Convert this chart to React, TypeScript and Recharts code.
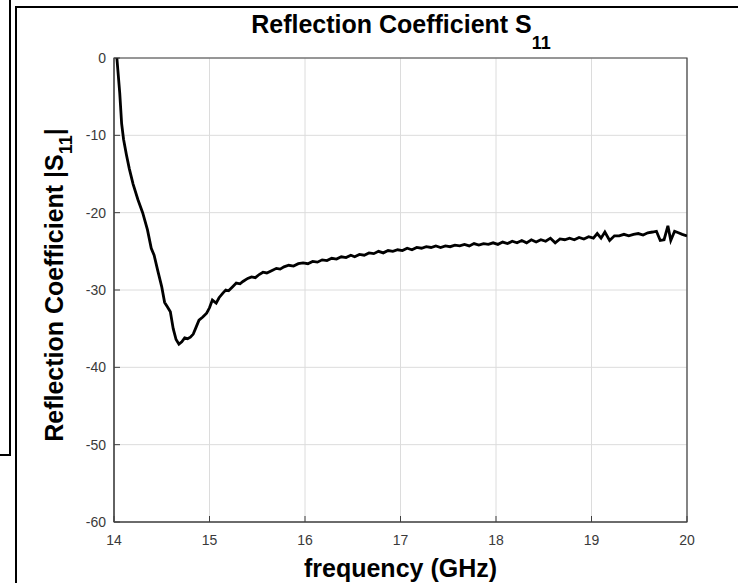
import React from 'react';
import { LineChart, Line, XAxis, YAxis, CartesianGrid, ReferenceArea } from 'recharts';

const freqGHz = [
  14.03, 14.06, 14.08, 14.1, 14.13, 14.16, 14.2, 14.25, 14.3, 14.35, 14.39, 14.42, 14.46, 14.5, 14.53,
  14.56, 14.59, 14.62, 14.65, 14.68, 14.71, 14.74, 14.77, 14.8, 14.83, 14.86, 14.89, 14.93, 14.97, 15.0,
  15.03, 15.07, 15.1, 15.14, 15.17, 15.2, 15.24, 15.28, 15.32, 15.35, 15.4, 15.44, 15.48, 15.52, 15.56,
  15.6, 15.65, 15.7, 15.74, 15.78, 15.83, 15.88, 15.93, 15.98, 16.03, 16.08, 16.13, 16.18, 16.23, 16.28,
  16.33, 16.38, 16.43, 16.48, 16.52, 16.57, 16.62, 16.67, 16.72, 16.77, 16.82, 16.87, 16.92, 16.97, 17.02,
  17.07, 17.12, 17.17, 17.22, 17.27, 17.32, 17.37, 17.42, 17.47, 17.52, 17.57, 17.62, 17.67, 17.72, 17.77,
  17.82, 17.87, 17.92, 17.97, 18.02, 18.07, 18.12, 18.17, 18.22, 18.27, 18.32, 18.37, 18.42, 18.47, 18.52,
  18.57, 18.62, 18.67, 18.72, 18.77, 18.82, 18.87, 18.92, 18.97, 19.02, 19.06, 19.1, 19.14, 19.19, 19.24,
  19.29, 19.34, 19.39, 19.44, 19.49, 19.54, 19.59, 19.64, 19.68, 19.72, 19.76, 19.8, 19.83, 19.87, 19.91,
  19.95, 20.0,
];

const s11dB = [
  0, -4.5, -8.5, -10.5, -12.5, -14.3, -16.3, -18.3, -20.0, -22.2, -24.6, -25.5, -27.6, -29.6, -31.6,
  -32.2, -32.8, -35.0, -36.4, -37.0, -36.7, -36.2, -36.3, -36.1, -35.7, -34.8, -33.9, -33.5, -33.0, -32.3,
  -31.3, -31.7, -31.0, -30.4, -30.0, -30.1, -29.6, -29.1, -29.2, -28.9, -28.5, -28.3, -28.4, -28.0, -27.7,
  -27.8, -27.5, -27.2, -27.3, -27.0, -26.8, -26.9, -26.6, -26.5, -26.6, -26.3, -26.4, -26.1, -26.2, -25.9,
  -26.0, -25.7, -25.8, -25.5, -25.7, -25.4, -25.5, -25.2, -25.3, -25.0, -25.2, -24.9, -25.0, -24.8, -24.9,
  -24.6, -24.8, -24.5, -24.6, -24.4, -24.5, -24.3, -24.5, -24.3, -24.4, -24.2, -24.3, -24.1, -24.3, -24.0,
  -24.2, -24.0, -24.1, -23.9, -24.1, -23.8, -24.0, -23.7, -23.9, -23.6, -23.9, -23.5, -23.8, -23.5, -23.7,
  -23.3, -23.9, -23.4, -23.5, -23.3, -23.5, -23.2, -23.4, -23.1, -23.3, -22.7, -23.3, -22.5, -23.6, -23.0,
  -23.0, -22.8, -23.0, -22.8, -22.7, -22.9, -22.6, -22.5, -22.4, -23.6, -23.5, -21.7, -23.6, -22.4, -22.6,
  -22.8, -23.0,
];

const xTicks = [14, 15, 16, 17, 18, 19, 20];
const yTicks = [0, -10, -20, -30, -40, -50, -60];

const data = freqGHz.map((f, i) => ({ f, s11: s11dB[i] }));

const FONT = '"Liberation Sans", Arial, Helvetica, sans-serif';
const AXIS = '#404040';
const TICKTEXT = '#3a3a3a';

function BottomTick({ x, y, payload }: any) {
  return (
    <g>
      <line x1={x} y1={y} x2={x} y2={y - 6} stroke={AXIS} />
      <text x={x} y={y + 23} textAnchor="middle" fill={TICKTEXT} fontSize={14} fontFamily={FONT}>
        {payload.value}
      </text>
    </g>
  );
}

function TopTick({ x, y }: any) {
  return <line x1={x} y1={y} x2={x} y2={y + 6} stroke={AXIS} />;
}

function LeftTick({ x, y, payload }: any) {
  return (
    <g>
      <line x1={x} y1={y} x2={x + 6} y2={y} stroke={AXIS} />
      <text x={x - 8} y={y + 5} textAnchor="end" fill={TICKTEXT} fontSize={14} fontFamily={FONT}>
        {payload.value}
      </text>
    </g>
  );
}

function RightTick({ x, y }: any) {
  return <line x1={x} y1={y} x2={x - 6} y2={y} stroke={AXIS} />;
}

export default function App() {
  return (
    <div style={{ position: 'absolute', left: 0, top: 0, width: 738, height: 583, background: '#fff', overflow: 'hidden' }}>
      {/* scan frame leftovers */}
      <div style={{ position: 'absolute', left: 9, top: 0, width: 2, height: 456, background: '#000' }} />
      <div style={{ position: 'absolute', left: 0, top: 454, width: 11, height: 2, background: '#000' }} />
      <div style={{ position: 'absolute', left: 15, top: 6, width: 2, height: 577, background: '#000' }} />
      <div style={{ position: 'absolute', left: 15, top: 6, width: 723, height: 2, background: '#000' }} />

      <LineChart
        width={738}
        height={583}
        data={data}
        margin={{ top: 58, right: 51, bottom: 0, left: 54 }}
        style={{ position: 'absolute', left: 0, top: 0 }}
      >
        <CartesianGrid stroke="#dcdcdc" strokeWidth={1} horizontal vertical />
        <XAxis
          dataKey="f"
          type="number"
          domain={[14, 20]}
          ticks={xTicks}
          allowDataOverflow
          height={61}
          axisLine={{ stroke: AXIS }}
          tickLine={false}
          tickSize={0}
          tickMargin={0}
          tick={<BottomTick />}
        />
        <XAxis
          xAxisId="top"
          orientation="top"
          dataKey="f"
          type="number"
          domain={[14, 20]}
          ticks={xTicks}
          height={0}
          axisLine={false}
          tickLine={false}
          tickSize={0}
          tickMargin={0}
          tick={<TopTick />}
        />
        <YAxis
          type="number"
          domain={[-60, 0]}
          ticks={yTicks}
          allowDataOverflow
          width={60}
          axisLine={{ stroke: AXIS }}
          tickLine={false}
          tickSize={0}
          tickMargin={0}
          tick={<LeftTick />}
        />
        <YAxis
          yAxisId="right"
          orientation="right"
          type="number"
          domain={[-60, 0]}
          ticks={yTicks}
          width={0}
          axisLine={false}
          tickLine={false}
          tickSize={0}
          tickMargin={0}
          tick={<RightTick />}
        />
        <ReferenceArea x1={14} x2={20} y1={-60} y2={0} fill="none" fillOpacity={0} stroke={AXIS} strokeWidth={1.2} />
        <Line
          type="linear"
          dataKey="s11"
          stroke="#000"
          strokeWidth={2.8}
          dot={false}
          isAnimationActive={false}
        />
      </LineChart>

      {/* title and axis labels */}
      <svg
        width={738}
        height={583}
        style={{ position: 'absolute', left: 0, top: 0, pointerEvents: 'none' }}
        fontFamily={FONT}
        fontWeight="bold"
        fill="#000"
      >
        <text x={401} y={33} textAnchor="middle" fontSize={25}>
          Reflection Coefficient S<tspan dy={16} fontSize={18}>11</tspan>
        </text>
        <text x={400.5} y={577} textAnchor="middle" fontSize={25}>
          frequency (GHz)
        </text>
        <text transform="translate(63,285) rotate(-90)" x={0} y={0} textAnchor="middle" fontSize={25}>
          Reflection Coefficient |S<tspan dy={9} fontSize={18}>11</tspan>
          <tspan dy={-9}>|</tspan>
        </text>
      </svg>
    </div>
  );
}
